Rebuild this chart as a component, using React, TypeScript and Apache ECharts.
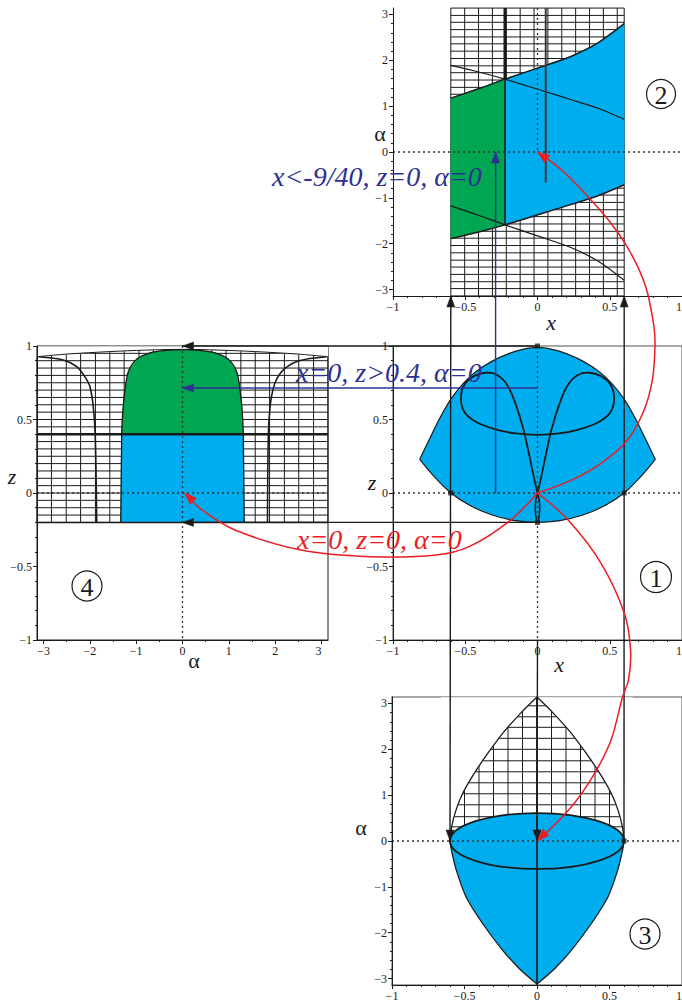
import React, { useEffect, useRef } from "react";
import * as echarts from "echarts";

const PI = Math.PI;
const BLUE = "#00aeef";
const GREEN = "#00a651";
const RED = "#ed1c24";
const NAVY = "#2e3192";
const INK = "#1a1a1a";
const GREY = "#8a8a8a";
const SERIF = "Liberation Serif";

// ---------- tick labels ----------
const xTicks = [-1, -0.5, 0, 0.5, 1];
const zTicks = [-1, -0.5, 0, 0.5, 1];
const alphaTicks = [-3, -2, -1, 0, 1, 2, 3];
const alphaMinorY = [-2.8, -2.6, -2.4, -2.2, -1.8, -1.6, -1.4, -1.2, -0.8, -0.6, -0.4, -0.2, 0.2, 0.4, 0.6, 0.8, 1.2, 1.4, 1.6, 1.8, 2.2, 2.4, 2.6, 2.8];
const alphaMinorX = [-2.5, -1.5, -0.5, 0.5, 1.5, 2.5];

// ---------- panel 2 (x, alpha) ----------
const p2UpperX = [-0.6, -0.4, -0.225, 0, 0.235, 0.418, 0.6];
const p2UpperA = [1.175, 1.39, 1.59, 1.83, 2.09, 2.38, 2.8];
const p2LowerX = [-0.6, -0.4, -0.225, 0.053, 0.235, 0.418, 0.6];
const p2LowerA = [-1.89, -1.74, -1.59, -1.32, -1.14, -0.955, -0.715];
const p2ThinTopX = [-0.6, -0.4, -0.225, 0.053, 0.235, 0.418, 0.6];
const p2ThinTopA = [1.89, 1.74, 1.59, 1.32, 1.14, 0.955, 0.715];
const p2ThinBotX = [-0.6, -0.4, -0.225, 0, 0.235, 0.418, 0.6];
const p2ThinBotA = [-1.175, -1.39, -1.59, -1.83, -2.09, -2.38, -2.8];
const p2SplitX = -0.225;
const p2MarkX = 0.057;
const p2MarkEndA = -0.67;
const p2HatchX = [-0.6, -0.504, -0.408, -0.312, -0.216, -0.12, -0.024, 0.072, 0.168, 0.264, 0.36, 0.456, 0.552, 0.6];
const p2HatchA = [-3.14, -2.98, -2.83, -2.67, -2.51, -2.36, -2.2, -2.04, -1.88, -1.73, -1.57, -1.41, -1.26, -1.1, -0.94, -0.79, -0.63, -0.47, -0.31, -0.16, 0, 0.16, 0.31, 0.47, 0.63, 0.79, 0.94, 1.1, 1.26, 1.41, 1.57, 1.73, 1.88, 2.04, 2.2, 2.36, 2.51, 2.67, 2.83, 2.98, 3.14];

// ---------- panel 1 (x, z) ----------
const p1UpperX = [-0.815, -0.747, -0.678, -0.605, -0.518, -0.427, -0.313, -0.199, -0.1, 0, 0.1, 0.199, 0.313, 0.427, 0.518, 0.605, 0.678, 0.747, 0.815];
const p1UpperZ = [0.229, 0.368, 0.505, 0.63, 0.74, 0.825, 0.897, 0.948, 0.977, 0.99, 0.977, 0.948, 0.897, 0.825, 0.74, 0.63, 0.505, 0.368, 0.229];
const p1LowerX = [-0.815, -0.724, -0.605, -0.473, -0.313, -0.153, 0, 0.153, 0.313, 0.473, 0.605, 0.724, 0.815];
const p1LowerZ = [0.229, 0.122, 0.005, -0.082, -0.15, -0.188, -0.2, -0.188, -0.15, -0.082, 0.005, 0.122, 0.229];
const p1InnerX = [0, -0.021, -0.05, -0.096, -0.153, -0.21, -0.279, -0.358, -0.438, -0.507, -0.53, -0.507, -0.427, -0.29, -0.15, 0, 0.15, 0.29, 0.427, 0.507, 0.53, 0.507, 0.438, 0.358, 0.279, 0.21, 0.153, 0.096, 0.05, 0.021, 0];
const p1InnerZ = [0, 0.088, 0.224, 0.429, 0.61, 0.735, 0.803, 0.818, 0.796, 0.735, 0.644, 0.553, 0.485, 0.433, 0.405, 0.395, 0.405, 0.433, 0.485, 0.553, 0.644, 0.735, 0.796, 0.818, 0.803, 0.735, 0.61, 0.429, 0.224, 0.088, 0];
const p1LensX = [0, -0.012, -0.015, -0.012, 0, 0.012, 0.015, 0.012, 0];
const p1LensZ = [0, -0.05, -0.1, -0.155, -0.2, -0.155, -0.1, -0.05, 0];
const p1MarksX = [0, -0.6, 0.6, 0];
const p1MarksZ = [1, 0, 0, -0.2];

// ---------- panel 3 (x, alpha) ----------
const p3UpX = [-0.6, -0.589, -0.558, -0.512, -0.432, -0.34, -0.226, -0.112, 0, 0.112, 0.226, 0.34, 0.432, 0.512, 0.558, 0.589, 0.6];
const p3UpA = [0, 0.31, 0.68, 1.04, 1.48, 1.91, 2.39, 2.79, 3.14, 2.79, 2.39, 1.91, 1.48, 1.04, 0.68, 0.31, 0];
const p3LoX = [-0.6, -0.59, -0.557, -0.489, -0.375, -0.238, -0.123, 0, 0.123, 0.238, 0.375, 0.489, 0.557, 0.59, 0.6];
const p3LoA = [0, -0.2, -0.63, -1.22, -1.8, -2.38, -2.78, -3.12, -2.78, -2.38, -1.8, -1.22, -0.63, -0.2, 0];
const p3Ellipse = [0, 0, 0.6, 0.61];
const p3HatchX = [-0.6, -0.5, -0.4, -0.3, -0.2, -0.1, 0, 0.1, 0.2, 0.3, 0.4, 0.5, 0.6];
const p3HatchA = [0.31, 0.53, 0.79, 1.03, 1.27, 1.51, 1.75, 2.0, 2.24, 2.48, 2.71, 2.95];

// ---------- panel 4 (alpha, z) ----------
const p4ArchA = [-3.14, -2.5, -1.57, -0.8, 0, 0.8, 1.57, 2.5, 3.14];
const p4ArchZ = [0.927, 0.945, 0.962, 0.972, 0.977, 0.972, 0.962, 0.945, 0.927];
const p4GreenA = [-1.313, -1.29, -1.242, -1.17, -0.99, -0.7, -0.35, 0, 0.35, 0.7, 0.99, 1.17, 1.242, 1.29, 1.313];
const p4GreenZ = [0.4, 0.55, 0.7, 0.825, 0.91, 0.954, 0.971, 0.975, 0.971, 0.954, 0.91, 0.825, 0.7, 0.55, 0.4];
const p4BlueA = [-1.313, -1.333, 1.333, 1.313];
const p4BlueZ = [0.4, -0.2, -0.2, 0.4];
const p4SideLA = [-3.11, -2.575, -2.285, -2.106, -1.998, -1.927, -1.883, -1.853];
const p4SideLZ = [0.927, 0.905, 0.86, 0.79, 0.723, 0.587, 0.383, -0.2];
const p4SideRA = [3.11, 2.52, 2.2, 2.04, 1.95, 1.89, 1.853, 1.835];
const p4SideRZ = [0.927, 0.9, 0.845, 0.78, 0.7, 0.587, 0.383, -0.2];
const p4LevelZ = 0.4;
const p4BaseZ = -0.2;
const p4HatchA = [-3.14, -2.83, -2.51, -2.2, -1.88, -1.57, -1.26, -0.94, -0.63, -0.31, 0, 0.31, 0.63, 0.94, 1.26, 1.57, 1.88, 2.2, 2.51, 2.83, 3.14];
const p4HatchZ = [-0.2, -0.15, -0.1, -0.05, 0, 0.05, 0.1, 0.15, 0.2, 0.25, 0.3, 0.35, 0.4, 0.45, 0.5, 0.55, 0.6, 0.65, 0.7, 0.75, 0.8, 0.85, 0.9, 0.95];

// ---------- red arcs, in panel-1 (x, z) coordinates ----------
const redToP2X = [0, 0.235, 0.44, 0.623, 0.738, 0.795, 0.813, 0.806, 0.749, 0.646, 0.509, 0.349, 0.166, 0];
const redToP2Z = [0, 0.088, 0.202, 0.361, 0.565, 0.769, 0.995, 1.131, 1.403, 1.631, 1.835, 2.016, 2.197, 2.32];
const redToP4X = [0, -0.199, -0.473, -0.701, -1.158, -1.637, -2.094, -2.32, -2.442];
const redToP4Z = [0, -0.195, -0.365, -0.422, -0.433, -0.388, -0.252, -0.116, 0];
const redToP3X = [0, 0.212, 0.44, 0.601, 0.644, 0.63, 0.589, 0.509, 0.395, 0.235, 0];
const redToP3Z = [0, -0.184, -0.478, -0.818, -1.068, -1.272, -1.386, -1.68, -1.907, -2.134, -2.367];

type Pt = number[];
const zip = (xs: number[], ys: number[]): Pt[] => xs.map((x, i) => [x, ys[i]]);

const fmt = (v: number) => {
  if (Math.abs(v * 2 - Math.round(v * 2)) > 1e-6) return "";
  return v < 0 ? "\u2212" + String(-v) : String(v);
};

function segSeries(g: number, segs: number[][], stroke: string, lineWidth: number, z: number, lineDash?: number[]) {
  return {
    type: "custom", xAxisIndex: g, yAxisIndex: g, z, silent: true, clip: false,
    encode: { x: [0, 2], y: [1, 3] },
    data: segs,
    renderItem: (_p: any, api: any) => {
      const a = api.coord([api.value(0), api.value(1)]);
      const b = api.coord([api.value(2), api.value(3)]);
      const style: any = { stroke, lineWidth, fill: "none" };
      if (lineDash) style.lineDash = lineDash;
      return { type: "line", shape: { x1: a[0], y1: a[1], x2: b[0], y2: b[1] }, style };
    },
  };
}

function polySeries(g: number, pts: Pt[], fill: string, z: number) {
  return {
    type: "custom", xAxisIndex: g, yAxisIndex: g, z, silent: true, clip: false,
    data: [pts[0]],
    renderItem: (_p: any, api: any) => ({
      type: "polygon",
      shape: { points: pts.map((p) => api.coord(p)) },
      style: { fill, stroke: fill, lineWidth: 0.5 },
    }),
  };
}

function curveSeries(g: number, pts: Pt[], stroke: string, lineWidth: number, z: number, smooth = 0.3) {
  return {
    type: "custom", xAxisIndex: g, yAxisIndex: g, z, silent: true, clip: false,
    data: [pts[0]],
    renderItem: (_p: any, api: any) => ({
      type: "polyline",
      shape: { points: pts.map((p) => api.coord(p)), smooth },
      style: { stroke, lineWidth, fill: "none", lineJoin: "round" },
    }),
  };
}

function ellipseSeries(g: number, e: number[], fill: string, stroke: string, lineWidth: number, z: number) {
  return {
    type: "custom", xAxisIndex: g, yAxisIndex: g, z, silent: true, clip: false,
    data: [[e[0], e[1]]],
    renderItem: (_p: any, api: any) => {
      const c = api.coord([e[0], e[1]]);
      const s = api.size([e[2], e[3]]);
      return { type: "ellipse", shape: { cx: c[0], cy: c[1], rx: s[0], ry: s[1] }, style: { fill, stroke, lineWidth } };
    },
  };
}

function markSeries(g: number, pts: Pt[], z: number) {
  return {
    type: "scatter", xAxisIndex: g, yAxisIndex: g, z, silent: true,
    symbol: "rect", symbolSize: 5, itemStyle: { color: INK }, data: pts,
  };
}

const labelStyle = { fontFamily: SERIF, fontSize: 12, color: INK, margin: 5, formatter: fmt };

function valAxis(g: number, pos: string, min: number, max: number, ticks: number[], interval?: number) {
  const ax: any = {
    type: "value", gridIndex: g, position: pos, offset: 0, min, max, z: 10,
    axisLine: { show: true, onZero: false, lineStyle: { color: INK, width: 1 } },
    axisTick: { show: true, length: 4, lineStyle: { color: INK }, customValues: ticks },
    axisLabel: { ...labelStyle, customValues: ticks, alignMaxLabel: pos === "bottom" ? "right" : undefined },
    minorTick: { show: interval !== undefined, splitNumber: 5, length: 2, lineStyle: { color: INK } },
    splitLine: { show: false },
    minorSplitLine: { show: false },
  };
  if (interval !== undefined) ax.interval = interval;
  return ax;
}

function minorAxis(g: number, pos: string, min: number, max: number, values: number[]) {
  return {
    type: "value", gridIndex: g, position: pos, offset: 0, min, max, z: 10,
    axisLine: { show: false, onZero: false },
    axisLabel: { show: false },
    splitLine: { show: false },
    axisTick: { show: true, length: 2, lineStyle: { color: INK }, customValues: values },
  };
}

function buildOption() {
  // panel 2
  const up2 = zip(p2UpperX, p2UpperA);
  const lo2 = zip(p2LowerX, p2LowerA);
  const green2 = [...up2.filter((p) => p[0] <= p2SplitX + 1e-9), ...lo2.filter((p) => p[0] <= p2SplitX + 1e-9).reverse()];
  const blue2 = [...up2.filter((p) => p[0] >= p2SplitX - 1e-9), ...lo2.filter((p) => p[0] >= p2SplitX - 1e-9).reverse()];
  const splitTop = p2UpperA[p2UpperX.indexOf(p2SplitX)];
  const splitBot = p2LowerA[p2LowerX.indexOf(p2SplitX)];
  const hatch2 = [
    ...p2HatchX.map((x) => [x, -PI, x, PI]),
    ...p2HatchA.map((a) => [p2HatchX[0], a, p2HatchX[p2HatchX.length - 1], a]),
  ];

  // panel 1
  const up1 = zip(p1UpperX, p1UpperZ);
  const lo1 = zip(p1LowerX, p1LowerZ);
  const outer1 = [...up1, ...lo1.slice(1, -1).reverse()];

  // panel 3
  const up3 = zip(p3UpX, p3UpA);
  const lo3 = zip(p3LoX, p3LoA);
  const midU = up3.findIndex((p) => p[0] === 0);
  const midL = lo3.findIndex((p) => p[0] === 0);
  const coverL = [...up3.slice(0, midU).concat([[0, PI - 0.01]]), [-0.66, PI - 0.01], [-0.66, 0]];
  const coverR = [[0, PI - 0.01], ...up3.slice(midU + 1), [0.66, 0], [0.66, PI - 0.01]];
  const hatch3 = [
    ...p3HatchX.map((x) => [x, 0, x, 3.1]),
    ...p3HatchA.map((a) => [p3HatchX[0], a, p3HatchX[p3HatchX.length - 1], a]),
  ];

  // panel 4
  const arch = zip(p4ArchA, p4ArchZ);
  const cover4 = [...arch, [PI, 0.995], [-PI, 0.995]];
  const green4 = zip(p4GreenA, p4GreenZ);
  const blue4 = zip(p4BlueA, p4BlueZ);
  const hatch4 = [
    ...p4HatchA.map((a) => [a, p4BaseZ, a, 0.99]),
    ...p4HatchZ.map((z) => [-PI, z, PI, z]),
  ];

  const dot = [2, 3];
  const gridBase = { containLabel: false, outerBoundsMode: "none", backgroundColor: "transparent" };

  return {
    animation: false,
    backgroundColor: "#ffffff",
    grid: [
      { ...gridBase, left: 393, top: 8, width: 289, height: 288, show: false },
      { ...gridBase, left: 393, top: 346, width: 289, height: 294, show: true, borderColor: GREY, borderWidth: 1.5 },
      { ...gridBase, left: 392, top: 697, width: 290, height: 288, show: true, borderColor: GREY, borderWidth: 1.5 },
      { ...gridBase, left: 37, top: 346, width: 291, height: 294, show: true, borderColor: INK, borderWidth: 1 },
    ],
    xAxis: [
      valAxis(0, "bottom", -1, 1, xTicks, 0.5),
      valAxis(1, "bottom", -1, 1, xTicks, 0.5),
      valAxis(2, "bottom", -1, 1, xTicks, 0.5),
      valAxis(3, "bottom", -PI, PI, alphaTicks),
      minorAxis(3, "bottom", -PI, PI, alphaMinorX),
    ],
    yAxis: [
      valAxis(0, "left", -PI, PI, alphaTicks),
      valAxis(1, "left", -1, 1, zTicks, 0.5),
      valAxis(2, "left", -PI, PI, alphaTicks),
      valAxis(3, "left", -1, 1, zTicks, 0.5),
      minorAxis(0, "left", -PI, PI, alphaMinorY),
      minorAxis(2, "left", -PI, PI, alphaMinorY),
    ],
    series: [
      // ----- panel 2 -----
      segSeries(0, hatch2, INK, 1, 1),
      polySeries(0, green2, GREEN, 3),
      polySeries(0, blue2, BLUE, 3),
      curveSeries(0, up2, INK, 1.5, 4),
      curveSeries(0, lo2, INK, 1.5, 4),
      curveSeries(0, zip(p2ThinTopX, p2ThinTopA), INK, 1.2, 4),
      curveSeries(0, zip(p2ThinBotX, p2ThinBotA), INK, 1.2, 4),
      segSeries(0, [[p2SplitX, PI, p2SplitX, splitTop]], INK, 3, 5),
      segSeries(0, [[p2SplitX, splitTop, p2SplitX, splitBot]], INK, 1.5, 5),
      segSeries(0, [[p2MarkX, PI, p2MarkX, p2MarkEndA]], "#3a3a3a", 2, 5),
      segSeries(0, [[-1, 0, 1, 0], [0, PI, 0, 0]], "#333", 1.3, 6, dot),

      // ----- panel 1 -----
      polySeries(1, outer1, BLUE, 3),
      curveSeries(1, up1, INK, 1.2, 4),
      curveSeries(1, lo1, INK, 1.2, 4),
      curveSeries(1, zip(p1InnerX, p1InnerZ), INK, 1.8, 4),
      curveSeries(1, zip(p1LensX, p1LensZ), INK, 1.6, 4),
      segSeries(1, [[0, 1, 0, -1], [-1, 0, 1, 0]], "#333", 1.3, 6, dot),
      markSeries(1, zip(p1MarksX, p1MarksZ), 7),

      // ----- panel 3 -----
      segSeries(2, hatch3, INK, 1, 1),
      polySeries(2, coverL, "#ffffff", 2),
      polySeries(2, coverR, "#ffffff", 2),
      polySeries(2, lo3, BLUE, 3),
      curveSeries(2, up3.slice(0, midU + 1), INK, 1.3, 4),
      curveSeries(2, up3.slice(midU), INK, 1.3, 4),
      curveSeries(2, lo3.slice(0, midL + 1), INK, 1.3, 4),
      curveSeries(2, lo3.slice(midL), INK, 1.3, 4),
      ellipseSeries(2, p3Ellipse, BLUE, INK, 1.8, 4),
      segSeries(2, [[0, PI, 0, -PI]], INK, 1.6, 5),
      segSeries(2, [[-1, 0, 1, 0]], "#333", 1.3, 6, dot),
      markSeries(2, [[0.6, 0]], 7),

      // ----- panel 4 -----
      segSeries(3, hatch4, INK, 1, 1),
      polySeries(3, cover4, "#ffffff", 2),
      polySeries(3, green4, GREEN, 3),
      polySeries(3, blue4, BLUE, 3),
      curveSeries(3, green4, INK, 1.3, 4),
      curveSeries(3, blue4.slice(0, 2), INK, 1.3, 4, 0),
      curveSeries(3, blue4.slice(2, 4), INK, 1.3, 4, 0),
      curveSeries(3, arch, INK, 1, 4),
      curveSeries(3, zip(p4SideLA, p4SideLZ), INK, 1.6, 4),
      curveSeries(3, zip(p4SideRA, p4SideRZ), INK, 1.6, 4),
      segSeries(3, [[-PI, p4LevelZ, PI, p4LevelZ]], INK, 2.5, 5),
      segSeries(3, [[-PI, p4BaseZ, PI, p4BaseZ]], INK, 1.5, 5),
      segSeries(3, [[0, 1, 0, -1], [-PI, 0, PI, 0]], "#333", 1.3, 6, dot),
    ],
  };
}

// projection links between panels: grid index, x, y
const links = [
  { from: [1, 0, 1], to: [3, 0, 1], color: INK, start: false, end: true },
  { from: [1, 0, -0.2], to: [3, 0, -0.2], color: INK, start: false, end: true },
  { from: [2, -0.6, 0], to: [0, -0.6, -PI], color: INK, start: true, end: true },
  { from: [2, 0.6, 0], to: [0, 0.6, -PI], color: INK, start: false, end: true },
  { from: [1, 0, -1], to: [2, 0, 0], color: INK, start: false, end: true },
  { from: [1, -0.29, 0], to: [0, -0.29, 0], color: NAVY, start: false, end: true },
  { from: [1, 0, 0.714], to: [3, 0, 0.714], color: NAVY, start: false, end: true },
];

function arrowHead(tip: number[], from: number[], color: string, len = 11, half = 4) {
  const dx = tip[0] - from[0];
  const dy = tip[1] - from[1];
  const d = Math.hypot(dx, dy) || 1;
  const ux = dx / d;
  const uy = dy / d;
  const bx = tip[0] - ux * len;
  const by = tip[1] - uy * len;
  return {
    type: "polygon", z: 120, silent: true,
    shape: { points: [[tip[0], tip[1]], [bx - uy * half, by + ux * half], [bx + uy * half, by - ux * half]] },
    style: { fill: color, stroke: color, lineWidth: 0.5 },
  };
}

function txt(text: string, x: number, y: number, font: string, fill: string, align = "center") {
  return {
    type: "text", x, y, z: 130, silent: true,
    style: { text, font, fill, textAlign: align, textVerticalAlign: "middle", verticalAlign: "middle" },
  };
}

function circled(d: string, cx: number, cy: number, r: number) {
  return [
    { type: "circle", z: 130, silent: true, shape: { cx, cy, r }, style: { fill: "none", stroke: INK, lineWidth: 1.2 } },
    txt(d, cx, cy + 1, `26px ${SERIF}`, INK),
  ];
}

function buildGraphics(P: (g: number, x: number, y: number) => number[]) {
  const els: any[] = [];
  for (const l of links) {
    const a = P(l.from[0], l.from[1], l.from[2]);
    const b = P(l.to[0], l.to[1], l.to[2]);
    els.push({ type: "line", z: 110, silent: true, shape: { x1: a[0], y1: a[1], x2: b[0], y2: b[1] }, style: { stroke: l.color, lineWidth: 1.4 } });
    if (l.end) els.push(arrowHead(b, a, l.color));
    if (l.start) els.push(arrowHead(a, b, l.color));
  }
  const reds = [zip(redToP2X, redToP2Z), zip(redToP4X, redToP4Z), zip(redToP3X, redToP3Z)];
  for (const r of reds) {
    const pts = r.map((p) => P(1, p[0], p[1]));
    els.push({ type: "polyline", z: 115, silent: true, shape: { points: pts, smooth: 0.35 }, style: { stroke: RED, lineWidth: 1.5, fill: "none" } });
    els.push(arrowHead(pts[pts.length - 1], pts[pts.length - 2], RED, 12, 4.5));
  }
  const it = `italic 28px ${SERIF}`;
  els.push(txt("x<-9/40, z=0, \u03b1=0", 272, 176, it, NAVY, "left"));
  els.push(txt("x=0, z>0.4, \u03b1=0", 296, 372, it, NAVY, "left"));
  els.push(txt("x=0, z=0, \u03b1=0", 297, 539, it, RED, "left"));

  const ax = `italic 22px ${SERIF}`;
  const gr = `22px ${SERIF}`;
  els.push(txt("x", 551, 322, ax, INK));
  els.push(txt("\u03b1", 380, 133, gr, INK));
  els.push(txt("z", 372, 482, ax, INK));
  els.push(txt("x", 559, 664, ax, INK));
  els.push(txt("\u03b1", 361, 827, gr, INK));
  els.push(txt("\u03b1", 194, 660, gr, INK));
  els.push(txt("z", 12, 476, ax, INK));

  els.push(...circled("2", 661, 94, 14.5));
  els.push(...circled("1", 656, 577, 15.5));
  els.push(...circled("3", 645, 934, 15));
  els.push(...circled("4", 87, 586, 15));
  return els;
}

export default function App() {
  const ref = useRef<HTMLDivElement>(null);
  useEffect(() => {
    const el = ref.current as HTMLDivElement;
    const chart = echarts.init(el, null, { renderer: "svg" });
    chart.setOption(buildOption() as any);
    const P = (g: number, x: number, y: number): number[] =>
      chart.convertToPixel({ xAxisIndex: g, yAxisIndex: g } as any, [x, y]) as number[];
    chart.setOption({ graphic: buildGraphics(P) } as any);
    return () => chart.dispose();
  }, []);
  return <div ref={ref} style={{ position: "absolute", left: 0, top: 0, width: 682, height: 1005, background: "#fff" }} />;
}
